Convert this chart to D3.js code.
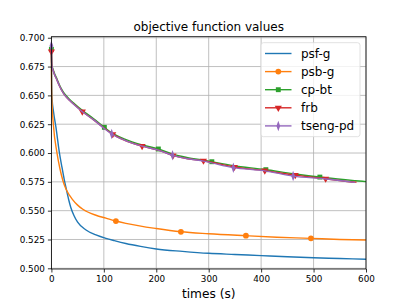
<!DOCTYPE html>
<html>
<head>
<meta charset="utf-8">
<script src="https://cdn.jsdelivr.net/npm/d3@7"></script>
<style>
  body { margin: 0; background: #fff; }
  text { font-family: "DejaVu Sans", sans-serif; }
</style>
</head>
<body>
<div id="chart"></div>
<script>
// values
var xTicks = [0, 100, 200, 300, 400, 500, 600];
var yTicks = [0.500, 0.525, 0.550, 0.575, 0.600, 0.625, 0.650, 0.675, 0.700];

var psfT = [0, 0.5, 1.2, 4, 8.8, 15, 20, 24.5, 28, 33, 37, 43, 50, 66, 85, 104, 120, 142, 170, 200, 250, 300, 350, 400, 450, 500, 550, 600];
var psfV = [0.690, 0.665, 0.648, 0.636, 0.622, 0.601, 0.588, 0.577, 0.5695, 0.5595, 0.5528, 0.5458, 0.540, 0.5332, 0.529, 0.526, 0.524, 0.5215, 0.519, 0.5168, 0.5147, 0.513, 0.512, 0.511, 0.510, 0.5092, 0.5085, 0.5078];

var psbT = [0, 0.3, 1, 3.7, 10.7, 16, 22, 28, 35, 40, 50, 60, 85, 104, 123, 142, 200, 247, 300, 371, 430, 495, 550, 600];
var psbV = [0.690, 0.660, 0.645, 0.625, 0.600, 0.587, 0.576, 0.5685, 0.563, 0.5598, 0.5548, 0.5512, 0.546, 0.5435, 0.541, 0.539, 0.5345, 0.5317, 0.530, 0.5283, 0.527, 0.526, 0.525, 0.5245];
var psbMarks = [123, 247, 371, 495];

var upT = [0, 0.5, 1, 3, 6, 10, 15, 20, 25, 35, 44, 59, 80, 101, 115, 140, 173, 204, 231, 260, 290, 347, 407, 461, 523, 580, 600];
var cpbtV = [0.690, 0.679, 0.676, 0.673, 0.669, 0.665, 0.6595, 0.655, 0.6515, 0.6465, 0.6428, 0.637, 0.630, 0.6223, 0.6175, 0.612, 0.607, 0.6035, 0.599, 0.596, 0.5938, 0.589, 0.5857, 0.582, 0.5785, 0.576, 0.5752];
var frbV = [0.688, 0.678, 0.675, 0.672, 0.668, 0.664, 0.6585, 0.654, 0.6505, 0.6455, 0.6418, 0.636, 0.629, 0.6215, 0.6168, 0.611, 0.606, 0.6025, 0.598, 0.595, 0.5933, 0.588, 0.5847, 0.581, 0.5777, 0.5748, 0.5745];
var tsengV = [0.693, 0.678, 0.675, 0.672, 0.668, 0.664, 0.6585, 0.654, 0.6505, 0.6455, 0.6416, 0.6358, 0.629, 0.6212, 0.6165, 0.611, 0.606, 0.6025, 0.598, 0.595, 0.593, 0.5873, 0.5845, 0.580, 0.5775, 0.5745, 0.5745];
var cpbtMarks = [0, 101, 204, 306, 409, 512];
var frbMarks = [0, 59, 117, 173, 232, 290, 349, 407, 465, 523];
var tsengMarks = [0, 115, 231, 347, 461];
var upEnd = { cpbt: 600, frb: 582, tseng: 579 };

var width = 407, height = 305;
var padL = 51.4, padR = 366, padT = 36.7, padB = 269;

var svg = d3.select('#chart').append('svg')
    .attr('width', width)
    .attr('height', height);

var x = d3.scaleLinear().domain([0, 600]).range([padL, padR]);
var y = d3.scaleLinear().domain([0.4994, 0.7009]).range([padB, padT]);

// grid
svg.append('g').selectAll('line').data(xTicks).enter().append('line')
    .attr('x1', function(d) { return x(d); })
    .attr('x2', function(d) { return x(d); })
    .attr('y1', padT).attr('y2', padB)
    .attr('stroke', '#b0b0b0').attr('stroke-width', 0.8);
svg.append('g').selectAll('line').data(yTicks).enter().append('line')
    .attr('y1', function(d) { return y(d); })
    .attr('y2', function(d) { return y(d); })
    .attr('x1', padL).attr('x2', padR)
    .attr('stroke', '#b0b0b0').attr('stroke-width', 0.8);

function pairs(ts, vs, end) {
    var out = [];
    ts.forEach(function(t, i) {
        if (end === undefined || t <= end) out.push([t, vs[i]]);
    });
    if (end !== undefined && end < ts[ts.length - 1]) {
        var f = d3.scaleLinear().domain(ts).range(vs);
        out.push([end, f(end)]);
    }
    return out;
}

var line = d3.line()
    .x(function(d) { return x(d[0]); })
    .y(function(d) { return y(d[1]); })
    .curve(d3.curveMonotoneX);

var series = [
    { name: 'psf-g', color: '#1f77b4', data: pairs(psfT, psfV), marks: [], sym: null },
    { name: 'psb-g', color: '#ff7f0e', data: pairs(psbT, psbV), marks: psbMarks, sym: d3.symbolCircle, size: 26 },
    { name: 'cp-bt', color: '#2ca02c', data: pairs(upT, cpbtV, upEnd.cpbt), marks: cpbtMarks, sym: d3.symbolSquare, size: 24 },
    { name: 'frb', color: '#d62728', data: pairs(upT, frbV, upEnd.frb), marks: frbMarks, sym: d3.symbolTriangle, size: 22, flip: true },
    { name: 'tseng-pd', color: '#9467bd', data: pairs(upT, tsengV, upEnd.tseng), marks: tsengMarks, sym: d3.symbolDiamond, size: 24, thin: true }
];

var plot = svg.append('g');
series.forEach(function(s) {
    plot.append('path')
        .datum(s.data)
        .attr('d', line)
        .attr('fill', 'none')
        .attr('stroke', s.color)
        .attr('stroke-width', 1.4);
    if (!s.sym) return;
    var f = d3.scaleLinear().domain(s.data.map(function(d) { return d[0]; }))
        .range(s.data.map(function(d) { return d[1]; }));
    plot.selectAll(null).data(s.marks).enter().append('path')
        .attr('d', d3.symbol().type(s.sym).size(s.size))
        .attr('transform', function(t) {
            return 'translate(' + x(t) + ',' + y(f(t)) + ')' +
                (s.flip ? ' rotate(180)' : '') + (s.thin ? ' scale(0.7,1.15)' : '');
        })
        .attr('fill', s.color);
});

// spines
svg.append('rect')
    .attr('x', padL).attr('y', padT)
    .attr('width', padR - padL).attr('height', padB - padT)
    .attr('fill', 'none').attr('stroke', '#000').attr('stroke-width', 0.8);

// axes
var xAxis = svg.append('g')
    .attr('transform', 'translate(0,' + padB + ')')
    .call(d3.axisBottom(x).tickValues(xTicks).tickSize(3.5).tickPadding(3).tickFormat(d3.format('d')));
var yAxis = svg.append('g')
    .attr('transform', 'translate(' + padL + ',0)')
    .call(d3.axisLeft(y).tickValues(yTicks).tickSize(3.5).tickPadding(3).tickFormat(d3.format('.3f')));
[xAxis, yAxis].forEach(function(a) {
    a.select('.domain').remove();
    a.selectAll('line').attr('stroke', '#000').attr('stroke-width', 0.8);
    a.selectAll('text').attr('font-family', 'DejaVu Sans').attr('font-size', 8.8).attr('fill', '#000');
});

// title and label
svg.append('text')
    .attr('x', (padL + padR) / 2).attr('y', 31)
    .attr('text-anchor', 'middle')
    .attr('font-size', 12)
    .text('objective function values');
svg.append('text')
    .attr('x', (padL + padR) / 2).attr('y', 298)
    .attr('text-anchor', 'middle')
    .attr('font-size', 12.2)
    .text('times (s)');

// legend
var lg = svg.append('g');
lg.append('rect')
    .attr('x', 261).attr('y', 42.7).attr('width', 99).attr('height', 94)
    .attr('rx', 2.5)
    .attr('fill', '#fff').attr('fill-opacity', 0.8)
    .attr('stroke', '#d9d9d9').attr('stroke-width', 0.8);
series.forEach(function(s, i) {
    var yy = 53.5 + i * 18.1;
    lg.append('line')
        .attr('x1', 265).attr('x2', 291.5)
        .attr('y1', yy).attr('y2', yy)
        .attr('stroke', s.color).attr('stroke-width', 1.4);
    if (s.sym) {
        lg.append('path')
            .attr('d', d3.symbol().type(s.sym).size(s.size))
            .attr('transform', 'translate(278.3,' + yy + ')' +
                (s.flip ? ' rotate(180)' : '') + (s.thin ? ' scale(0.7,1.15)' : ''))
            .attr('fill', s.color);
    }
    lg.append('text')
        .attr('x', 301).attr('y', yy + 4.3)
        .attr('font-size', 12)
        .text(s.name);
});
</script>
</body>
</html>
